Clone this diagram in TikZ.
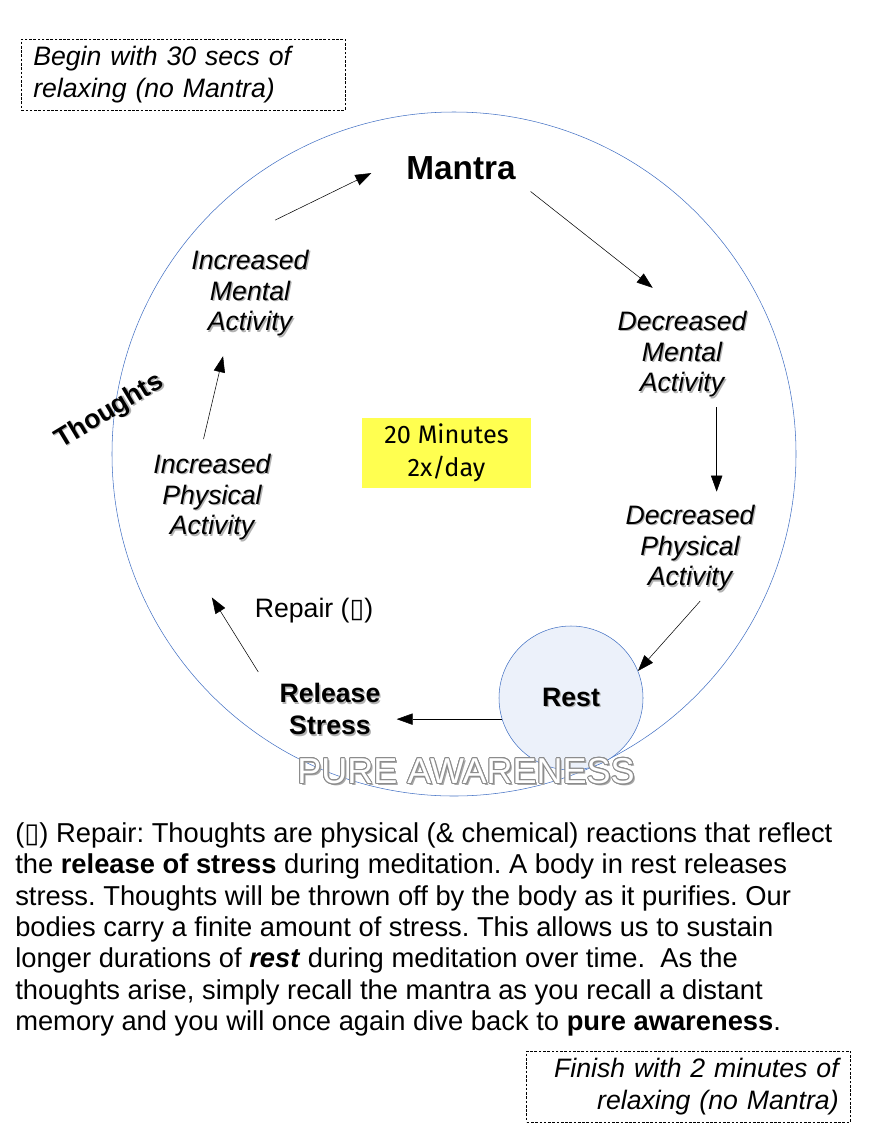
\documentclass[tikz,border=0pt]{standalone}
\usepackage{fontspec}
\setmainfont{Liberation Sans}
\newfontfamily\symfont{DejaVu Sans}
\newfontfamily\handfont{Fira Sans}
\usepackage{contour}
\usetikzlibrary{positioning,arrows.meta}
\definecolor{ringblue}{RGB}{68,114,196}
\definecolor{restfill}{RGB}{236,241,250}
\definecolor{notebg}{RGB}{255,255,80}
\newcommand\shd[1]{\leavevmode\rlap{\kern1pt\raisebox{-1pt}{\textcolor{black!30}{#1}}}#1}
\newcommand\boxsym{{\symfont\char"25AF}}
\contourlength{0.7pt}
\frenchspacing

\begin{document}
\begin{tikzpicture}[x=0.75pt,y=-0.75pt,
	phase/.style={font=\fontsize{20}{23}\selectfont\itshape, align=center, inner sep=0pt},
	keyword/.style={font=\fontsize{20}{24}\selectfont\bfseries, align=center, inner sep=0pt},
	note/.style={draw, dash pattern=on 2pt off 1.2pt, font=\fontsize{20}{23.3}\selectfont\itshape, inner xsep=9pt, inner ysep=3pt, minimum height=53pt, text width=225pt},
	arr/.style={-{Triangle[length=12pt,width=8.5pt]}, thin},
	]
		\useasboundingbox (0,0) rectangle (868,1132);

		%Ring
		\draw[ringblue, thin] (454,454) circle[radius=342];

		%Nodes
		\node[font=\fontsize{25}{30}\selectfont\bfseries, inner sep=0pt] (Mantra) at (461,168) {Mantra};
		\node[phase] (DecMental)   at (682,355) {\shd{Decreased}\\\shd{Mental}\\\shd{Activity}};
		\node[phase] (DecPhysical) at (690,549) {\shd{Decreased}\\\shd{Physical}\\\shd{Activity}};
		\node[circle, draw=ringblue, fill=restfill, minimum size=108pt, inner sep=0pt, keyword] (Rest) at (571,698) {\shd{Rest}};
		\node[keyword] (Release) at (330,710) {\shd{Release}\\\shd{Stress}};
		\node[font=\fontsize{20}{24}\selectfont, inner sep=0pt] (Repair) at (314,611) {Repair (\boxsym)};
		\node[phase] (IncPhysical) at (212,498) {\shd{Increased}\\\shd{Physical}\\\shd{Activity}};
		\node[phase] (IncMental)   at (250,294) {\shd{Increased}\\\shd{Mental}\\\shd{Activity}};
		\node[keyword, rotate=31] (Thoughts) at (110,412) {\shd{Thoughts}};
		\node[fill=notebg, minimum width=127pt, minimum height=52.5pt, font=\handfont\fontsize{19}{25}\selectfont, align=center] (Note) at (446.5,453) {20 Minutes\\2x/day};
		\node[font=\fontsize{27}{30}\selectfont, inner sep=0pt] (Pure) at (466,772) {\rlap{\kern1.5pt\raisebox{-1.5pt}{\textcolor{black!35}{PURE AWARENESS}}}\contour{black!45}{\textcolor{white}{PURE AWARENESS}}};

		\node[note, align=left, anchor=north west] (Begin) at (21,39) {Begin with 30 secs of\\relaxing (no Mantra)};
		\node[note, align=right, anchor=north east] (Finish) at (851,1051) {Finish with 2 minutes of\\relaxing (no Mantra)};

		\node[anchor=north west, align=left, inner sep=0pt, font=\fontsize{20.5}{23.6}\selectfont] (Footnote) at (15,822) {(\boxsym) Repair: Thoughts are physical (\& chemical) reactions that reflect\\
			the \textbf{release of stress} during meditation. A body in rest releases\\
			stress. Thoughts will be thrown off by the body as it purifies. Our\\
			bodies carry a finite amount of stress. This allows us to sustain\\
			longer durations of \textbf{\textit{rest}} during meditation over time.\ \ As the\\
			thoughts arise, simply recall the mantra as you recall a distant\\
			memory and you will once again dive back to \textbf{pure awareness}.};

		%Arrows
		\draw[arr, shorten <=51pt, shorten >=29pt] ([xshift=-27pt]IncMental.north) -- (Mantra.north west);
		\draw[arr, shorten <=14pt, shorten >=28pt] (Mantra.south east) -- (DecMental.north);
		\draw[arr, shorten <=6pt, shorten >=10pt] ([xshift=26pt]DecMental.south) -- ([xshift=20pt]DecPhysical.north);
		\draw[arr, shorten <=8pt] ([xshift=13pt]DecPhysical.south) -- (Rest.22);
		\draw[arr, shorten >=12pt] (Rest.197) -- (Rest.197 -| Release.east);
		\draw[arr, shorten <=10pt, shorten >=49pt] ([xshift=-10.5pt]Release.north west) -- ([xshift=-26pt]IncPhysical.south);
		\draw[arr, shorten <=11.5pt, shorten >=14pt] ([xshift=-9pt]IncPhysical.north) -- ([xshift=-17pt]IncMental.south);
	\end{tikzpicture}
\end{document}
